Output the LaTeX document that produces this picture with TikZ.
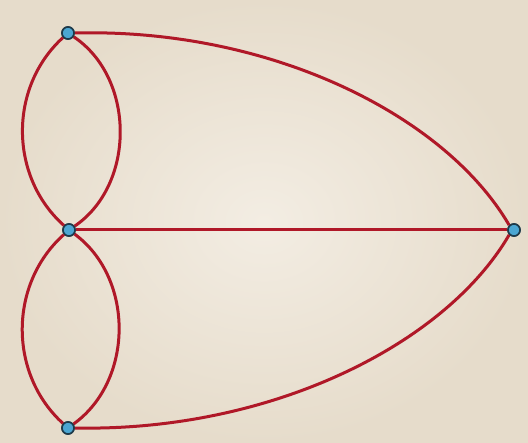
\documentclass[tikz,border=0pt]{standalone}
\begin{document}
\begin{tikzpicture}[x=1pt,y=-1pt,
  edge/.style={draw=edgered,line width=3pt},
  vtx/.style={circle,draw=vtxdark,fill=vtxblue,line width=1.6pt,minimum size=12pt,inner sep=0pt}]
\definecolor{edgered}{HTML}{B01828}
\definecolor{vtxblue}{HTML}{4BA6D2}
\definecolor{vtxdark}{HTML}{1E3A4A}
\definecolor{paper}{HTML}{E6DCCB}
\definecolor{paperlight}{HTML}{F3EDE3}
\useasboundingbox (0,0) rectangle (528,443);
\shade[inner color=paperlight,outer color=paper] (0,0) rectangle (528,443);
\node[vtx] (a) at (68,33) {};
\node[vtx] (b) at (69,230) {};
\node[vtx] (c) at (68,428) {};
\node[vtx] (d) at (514,230) {};
\draw[edge] (a) to[bend right=48] (b);
\draw[edge] (a) to[bend left=56] (b);
\draw[edge] (b) to[bend right=48] (c);
\draw[edge] (b) to[bend left=54] (c);
\draw[edge] (b) -- (d);
\draw[edge] (a.east) .. controls (270,28) and (445,115) .. (d.north west);
\draw[edge] (c.east) .. controls (270,432) and (445,345) .. (d.south west);
\node[vtx] at (a) {};
\node[vtx] at (b) {};
\node[vtx] at (c) {};
\node[vtx] at (d) {};
\end{tikzpicture}
\end{document}
